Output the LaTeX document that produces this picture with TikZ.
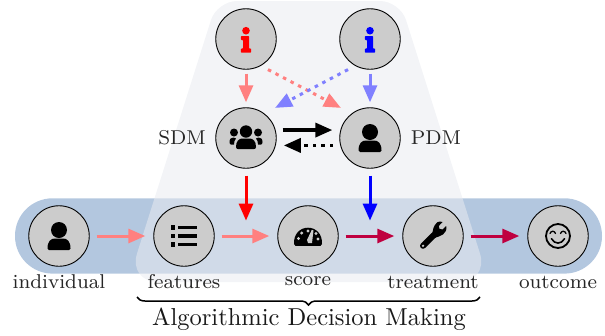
\documentclass[tikz,border=0pt]{standalone}
\usetikzlibrary{arrows.meta,decorations.pathreplacing}
\definecolor{pill}{HTML}{B3C7DF}
\definecolor{veil}{HTML}{E9EBF0}
\definecolor{disc}{HTML}{CCCCCC}
\definecolor{softred}{HTML}{FF8080}
\definecolor{softblue}{HTML}{8080FF}
\definecolor{mixred}{HTML}{BF0040}
\tikzset{
  icirc/.style={circle,draw=black,line width=0.9pt,fill=disc,minimum size=60.5pt,inner sep=0pt},
  lab/.style={scale=2.5,font=\footnotesize,text=black!85,inner sep=0pt},
  big/.style={scale=2.45,font=\normalsize,text=black!90,inner sep=0pt},
  flow/.style={line width=3pt,-{Triangle[length=17pt,width=14pt]},shorten <=7pt,shorten >=8pt},
  dots/.style={dash pattern=on 3.5pt off 5pt},
}
\newcommand{\iconperson}[1]{\begin{scope}[shift={(#1.center)}]
  \fill (0,-6) circle (8);
  \fill (-11.5,12.5) .. controls (-11.5,5) and (-8,2.5) .. (-4,2.5) -- (4,2.5) .. controls (8,2.5) and (11.5,5) .. (11.5,12.5) .. controls (11.5,13.5) and (11,14) .. (10,14) -- (-10,14) .. controls (-11,14) and (-11.5,13.5) .. (-11.5,12.5) -- cycle;
\end{scope}}
\newcommand{\iconusers}[1]{\begin{scope}[shift={(#1.center)}]
  \fill (0,-6.5) circle (6.2);
  \fill (-12,-5.5) circle (4);
  \fill (12,-5.5) circle (4);
  \fill (-10,9) .. controls (-10,3) and (-7,0.5) .. (-3.5,0.5) -- (3.5,0.5) .. controls (7,0.5) and (10,3) .. (10,9) .. controls (10,10.5) and (9,11) .. (8,11) -- (-8,11) .. controls (-9,11) and (-10,10.5) .. (-10,9) -- cycle;
  \fill (-16.5,4) .. controls (-16.5,0.5) and (-14.5,-0.5) .. (-12.5,-0.5) .. controls (-11.5,-0.5) and (-11,0) .. (-10,0.5) .. controls (-11.5,2) and (-12,4) .. (-12,6.5) -- (-15,6.5) .. controls (-16,6.5) and (-16.5,5.5) .. (-16.5,4) -- cycle;
  \fill (16.5,4) .. controls (16.5,0.5) and (14.5,-0.5) .. (12.5,-0.5) .. controls (11.5,-0.5) and (11,0) .. (10,0.5) .. controls (11.5,2) and (12,4) .. (12,6.5) -- (15,6.5) .. controls (16,6.5) and (16.5,5.5) .. (16.5,4) -- cycle;
\end{scope}}
\newcommand{\iconinfo}[2]{\begin{scope}[shift={(#1.center)}]
  \fill[#2] (0,-8.3) circle (3.8);
  \fill[#2,rounded corners=0.7pt] (-5.2,-3) -- (3,-3) -- (3,9.5) -- (5.2,9.5) -- (5.2,13.7) -- (-5.2,13.7) -- (-5.2,9.5) -- (-3,9.5) -- (-3,1) -- (-5.2,1) -- cycle;
\end{scope}}
\newcommand{\iconlist}[1]{\begin{scope}[shift={(#1.center)}]
  \foreach \yy in {-8.5,0,8.5}{
    \fill (-13.3,\yy-2.3) rectangle (-8.7,\yy+2.3);
    \fill (-5.7,\yy-1.8) rectangle (12.7,\yy+1.8);
  }
\end{scope}}
\newcommand{\icongauge}[1]{\begin{scope}[shift={(#1.center)}]
  \fill (-14,8) .. controls (-14.5,-2) and (-8,-8.3) .. (0,-8.3) .. controls (8,-8.3) and (14.5,-2) .. (14,8) .. controls (14,9.3) and (13.3,9.8) .. (12.5,9.8) -- (-12.5,9.8) .. controls (-13.3,9.8) and (-14,9.3) .. (-14,8) -- cycle;
  \fill[disc] (-9.5,2.5) circle (1.7);
  \fill[disc] (-6.3,-3) circle (1.7);
  \fill[disc] (0,-5) circle (1.7) ;
  \fill[disc] (8,-2.5) circle (1.7);
  \fill[disc] (10,3) circle (1.7);
  \fill[disc] (3.8,-6.2) -- (5.5,-5.6) -- (4,7) -- (0,7) -- (-1,4) -- cycle;
\end{scope}}
\newcommand{\iconwrench}[1]{\begin{scope}[shift={(#1.center)}]
  \draw[line width=6pt,line cap=round] (-10,9.8) -- (2,-2);
  \fill (-0.8,-1.5) .. controls (0,-6) and (0,-10) .. (4.3,-13.8) .. controls (6,-14.8) and (8,-14.5) .. (9.5,-14) -- (5.8,-10) -- (6.5,-7.2) -- (9.5,-6.5) -- (13.2,-10) .. controls (14,-6) and (12.5,-3.5) .. (10,-1.5) .. controls (7,0.5) and (4,1) .. (1.5,2) -- cycle;
  \fill[disc] (-10,9.8) circle (1.3);
\end{scope}}
\newcommand{\iconsmile}[1]{\begin{scope}[shift={(#1.center)}]
  \draw[line width=1.8pt] (0,0) circle (12);
  \draw[line width=1.3pt,line cap=round] (-8,-2.5) .. controls (-7,-5.5) and (-3.5,-5.5) .. (-2.5,-2.5);
  \draw[line width=1.3pt,line cap=round] (2.5,-2.5) .. controls (3.5,-5.5) and (7,-5.5) .. (8,-2.5);
  \draw[line width=1.6pt,line cap=round] (-6.5,2.8) .. controls (-3,8.5) and (3,8.5) .. (6.5,2.8);
\end{scope}}
\begin{document}
\begin{tikzpicture}[x=1pt,y=-1pt]
\useasboundingbox (0,0) rectangle (605,335);
\fill[pill,rounded corners=37.5pt] (15,198.3) rectangle (602,273.6);
\fill[veil,opacity=0.55,rounded corners=30pt] (128,282) [rounded corners=20pt] -- (217,1) -- (400,1) [rounded corners=30pt] -- (489,282) -- cycle;
\node[icirc] (ind) at (59,236) {};
\node[icirc] (fea) at (184,236) {};
\node[icirc] (sco) at (308,236) {};
\node[icirc] (tre) at (433,236) {};
\node[icirc] (out) at (558,236) {};
\node[icirc] (sdm) at (246,138) {};
\node[icirc] (pdm) at (370,138) {};
\node[icirc] (infr) at (246,39) {};
\node[icirc] (infb) at (370,39) {};
\coordinate (rtgt) at (246,220.6);
\coordinate (btgt) at (370,220.6);
\coordinate (brR) at (480,297);
\coordinate (brL) at (137,297);
\iconperson{ind}\iconlist{fea}\icongauge{sco}\iconwrench{tre}\iconsmile{out}
\iconusers{sdm}\iconperson{pdm}\iconinfo{infr}{red}\iconinfo{infb}{blue}
\node[lab] (lind) at (59,282) {individual};
\node[lab] (lfea) at (184,282) {features};
\node[lab] (lsco) at (308,281) {score};
\node[lab] (ltre) at (433,282) {treatment};
\node[lab] (lout) at (558,282) {outcome};
\node[lab] (lsdm) at (182,138) {SDM};
\node[lab] (lpdm) at (436,138) {PDM};
\node[big] (ladm) at (309,319) {Algorithmic Decision Making};
\draw[flow,softred] (ind) -- (fea);
\draw[flow,softred] (fea) -- (sco);
\draw[flow,mixred] (sco) -- (tre);
\draw[flow,mixred] (tre) -- (out);
\draw[flow,softred,shorten <=4pt,shorten >=5pt] (infr) -- (sdm);
\draw[flow,softblue,shorten <=4pt,shorten >=5pt] (infb) -- (pdm);
\draw[flow,softred,dots,shorten <=8pt,shorten >=12pt] (infr.-61) -- (pdm.127);
\draw[flow,softblue,dots,shorten <=8pt,shorten >=12pt] (infb.-119) -- (sdm.53);
\draw[flow,black,line width=3.5pt] (sdm.15) -- (pdm.165);
\draw[flow,black,dots,line width=3.5pt] (pdm.-166) -- (sdm.-14);
\draw[flow,red,shorten >=0pt] (sdm) -- (rtgt);
\draw[flow,blue,shorten >=0pt] (pdm) -- (btgt);
\draw[line width=1.5pt,decorate,decoration={brace,amplitude=8pt}] (brR) -- (brL);
\end{tikzpicture}
\end{document}
